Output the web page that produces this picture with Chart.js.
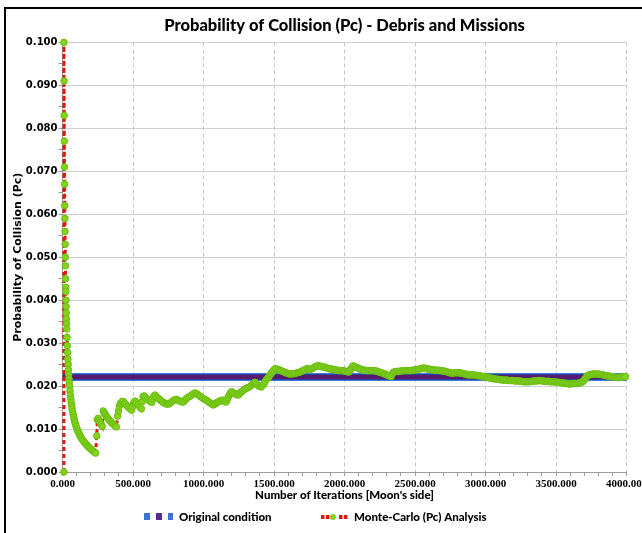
<!DOCTYPE html>
<html><head><meta charset="utf-8">
<script src="https://cdn.jsdelivr.net/npm/chart.js@4.4.1/dist/chart.umd.min.js"></script>
<style>
html,body{margin:0;padding:0;background:#fff;overflow:hidden;width:642px;height:533px;}
#frame{position:absolute;left:4px;top:7px;width:636px;height:526px;border-left:2px solid #000;border-top:2px solid #000;}
#c{position:absolute;left:0;top:0;}
</style></head><body>
<div id="frame"></div>
<canvas id="c" width="642" height="533"></canvas>
<script>
const chartTitle = 'Probability of Collision (Pc) - Debris and Missions';
const xAxisTitle = "Number of Iterations [Moon's side]";
const yAxisTitle = 'Probability of Collision (Pc)';
const seriesNames = ['Original condition', 'Monte-Carlo (Pc) Analysis'];
const xRange = [0, 4000];
const yRange = [0, 0.1];
const originalConditionX = [0, 4000];
const originalConditionPc = [0.0221, 0.0221];

// Monte-Carlo samples (iterations in thousands, Pc)
const mcIterations = [
 10,10,11,12,13,14,15,16,17,18,19,20,21,22,23,24,25,26,27,28,29,30,
 32,34,36,38,40,42,44,46,48,50,
 53,56,59,62,65,68,72,76,80,84,88,92,
 97,102,107,112,118,124,130,137,144,151,158,
 166,174,182,190,199,208,217,226,235,
 243,247,253,260,267,274,282,289,296,303,
 310,318,326,334,342,350,358,366,374,382,
 391,397,403,409,416,424,431,440,450,460,
 470,480,490,497,503,509,515,525,536,548,
 560,566,572,580,590,600,612,622,633,640,
 648,656,666,677,688,699,710,720,731,741,
 752,762,773,784,796,808,820,833,845,857,
 868,879,891,904,916,928,940,950,961,972,
 982,993,1004,1015,1025,1036,1046,1058,1070,1080,
 1089,1097,1105,1114,1124,1132,1140,1150,1160,1167,
 1174,1181,1188,1194,1200,1211,1223,1235,1247,1256,
 1266,1274,1282,1293,1305,1318,1330,1340,1351,1358,
 1365,1377,1389,1398,1408,1418,1429,1438,1448,1459,
 1466,1472,1479,1486,1493,1500,1511,1528,1539,1550,
 1561,1571,1582,1592,1603,1613,1624,1635,1645,1656,
 1667,1677,1688,1699,1710,1720,1734,1745,1755,1766,
 1777,1788,1798,1809,1819,1830,1840,1851,1862,1872,
 1883,1894,1904,1915,1926,1936,1947,1958,1968,1979,
 1989,2000,2011,2022,2032,2040,2046,2054,2062,2072,
 2082,2093,2103,2114,2124,2135,2145,2156,2167,2177,
 2188,2198,2209,2220,2230,2241,2252,2262,2273,2284,
 2294,2305,2316,2330,2338,2346,2355,2365,2376,2386,
 2397,2408,2418,2429,2440,2450,2461,2472,2482,2493,
 2503,2514,2525,2535,2546,2557,2567,2578,2589,2599,
 2610,2621,2631,2642,2652,2663,2674,2684,2695,2706,
 2716,2727,2738,2748,2759,2769,2780,2791,2801,2812,
 2823,2833,2844,2855,2865,2876,2887,2897,2908,2918,
 2929,2940,2950,2961,2972,2982,2993,3004,3014,3025,
 3035,3046,3057,3067,3078,3089,3099,3110,3121,3131,
 3142,3152,3163,3174,3184,3195,3206,3216,3227,3238,
 3248,3259,3270,3280,3291,3301,3312,3323,3333,3344,
 3355,3365,3376,3386,3397,3408,3418,3429,3440,3450,
 3461,3471,3482,3493,3503,3514,3525,3535,3546,3557,
 3567,3578,3588,3599,3610,3620,3631,3642,3652,3663,
 3674,3684,3691,3698,3706,3713,3720,3727,3738,3748,
 3759,3769,3780,3791,3801,3812,3823,3833,3844,3855,
 3865,3876,3886,3897,3908,3918,3929,3940,3950,3961,
 3972,3982,3993
];
const mcPc = [
 0.000,0.100,0.091,0.083,0.077,0.071,0.067,0.062,0.059,0.056,0.053,0.050,0.048,0.045,0.043,0.042,0.040,0.0385,0.037,0.0357,0.0345,0.0333,
 0.0313,0.0294,0.0278,0.0263,0.0250,0.0238,0.0227,0.0217,0.0208,0.0200,
 0.0189,0.0179,0.0170,0.0162,0.0155,0.0148,0.0140,0.0133,0.0127,0.0121,0.0116,0.0111,
 0.0106,0.0101,0.0097,0.0093,0.0089,0.0085,0.0081,0.0077,0.0074,0.0071,0.0068,
 0.0065,0.0062,0.0059,0.0057,0.0054,0.0051,0.0049,0.0046,0.0044,
 0.0084,0.0122,0.0125,0.0120,0.0115,0.0111,0.0106,0.0142,0.0138,0.0134,
 0.0130,0.0127,0.0123,0.0120,0.0117,0.0114,0.0112,0.0110,0.0107,0.0105,
 0.0130,0.0142,0.0153,0.0158,0.0161,0.0164,0.0164,0.0160,0.0157,0.0153,
 0.0150,0.0147,0.0144,0.0152,0.0159,0.0163,0.0165,0.0161,0.0157,0.0152,
 0.0147,0.0164,0.0176,0.0177,0.0173,0.0170,0.0167,0.0164,0.0162,0.0170,
 0.0176,0.0179,0.0175,0.0172,0.0169,0.0166,0.0163,0.0161,0.0159,0.0158,
 0.0158,0.0160,0.0163,0.0166,0.0168,0.0169,0.0167,0.0165,0.0163,0.0163,
 0.0167,0.0171,0.0174,0.0176,0.0179,0.0182,0.0184,0.0182,0.0180,0.0177,
 0.0175,0.0172,0.0170,0.0168,0.0166,0.0163,0.0161,0.0158,0.0156,0.0158,
 0.0160,0.0162,0.0163,0.0165,0.0166,0.0167,0.0167,0.0164,0.0163,0.0168,
 0.0173,0.0178,0.0182,0.0185,0.0187,0.0184,0.0182,0.0180,0.0179,0.0183,
 0.0186,0.0188,0.0190,0.0193,0.0195,0.0197,0.0199,0.0202,0.0205,0.0207,
 0.0209,0.0205,0.0201,0.0199,0.0198,0.0201,0.0205,0.0211,0.0216,0.0219,
 0.0223,0.0226,0.0229,0.0232,0.0235,0.0238,0.0241,0.0239,0.0237,0.0236,
 0.0234,0.0233,0.0231,0.0230,0.0229,0.0228,0.0228,0.0229,0.0229,0.0230,
 0.0231,0.0232,0.0233,0.0235,0.0237,0.0238,0.0241,0.0239,0.0238,0.0240,
 0.0242,0.0244,0.0246,0.0247,0.0247,0.0246,0.0245,0.0244,0.0244,0.0242,
 0.0241,0.0240,0.0240,0.0239,0.0238,0.0238,0.0237,0.0236,0.0236,0.0236,
 0.0236,0.0235,0.0234,0.0233,0.0233,0.0237,0.0240,0.0244,0.0247,0.0245,
 0.0244,0.0242,0.0241,0.0239,0.0238,0.0237,0.0237,0.0236,0.0236,0.0236,
 0.0236,0.0236,0.0236,0.0235,0.0235,0.0233,0.0232,0.0231,0.0230,0.0228,
 0.0227,0.0225,0.0224,0.0222,0.0228,0.0232,0.0233,0.0234,0.0234,0.0234,
 0.0235,0.0235,0.0236,0.0236,0.0236,0.0236,0.0236,0.0236,0.0237,0.0237,
 0.0238,0.0238,0.0239,0.0240,0.0241,0.0242,0.0242,0.0241,0.0240,0.0239,
 0.0239,0.0238,0.0238,0.0237,0.0237,0.0237,0.0236,0.0236,0.0235,0.0235,
 0.0234,0.0233,0.0232,0.0231,0.0230,0.0230,0.0231,0.0231,0.0231,0.0231,
 0.0230,0.0230,0.0229,0.0228,0.0227,0.0226,0.0226,0.0226,0.0226,0.0226,
 0.0225,0.0225,0.0224,0.0224,0.0223,0.0222,0.0222,0.0221,0.0220,0.0219,
 0.0219,0.0218,0.0217,0.0217,0.0216,0.0216,0.0215,0.0215,0.0214,0.0214,
 0.0214,0.0214,0.0213,0.0213,0.0213,0.0213,0.0212,0.0212,0.0212,0.0212,
 0.0211,0.0211,0.0210,0.0210,0.0210,0.0210,0.0210,0.0211,0.0211,0.0212,
 0.0212,0.0212,0.0213,0.0213,0.0212,0.0212,0.0211,0.0211,0.0211,0.0211,
 0.0210,0.0210,0.0210,0.0210,0.0209,0.0209,0.0208,0.0208,0.0207,0.0207,
 0.0206,0.0206,0.0205,0.0205,0.0205,0.0206,0.0206,0.0206,0.0206,0.0207,
 0.0208,0.0209,0.0211,0.0213,0.0217,0.0220,0.0223,0.0225,0.0226,0.0227,
 0.0228,0.0228,0.0228,0.0228,0.0228,0.0227,0.0227,0.0226,0.0225,0.0224,
 0.0224,0.0223,0.0222,0.0222,0.0221,0.0221,0.0220,0.0220,0.0220,0.0221,
 0.0221,0.0222,0.0222
];

const NARROW = "Lato, 'Liberation Sans', sans-serif";
const toPts = (xs, ys) => xs.map((x, i) => ({x: x, y: ys[i]}));
const bandData = toPts(originalConditionX, originalConditionPc);

const legendPlugin = {
  id: 'customLegend',
  afterDraw(chart) {
    const ctx = chart.ctx;
    const y = 517;
    ctx.save();
    // Original condition swatch
    ctx.fillStyle = '#3d74d2'; ctx.fillRect(144, y - 4, 6, 7);
    ctx.fillStyle = '#5a2a8c'; ctx.fillRect(156, y - 4, 6, 7);
    ctx.fillStyle = '#3d74d2'; ctx.fillRect(168, y - 4, 5, 7);
    // Monte-Carlo swatch
    ctx.fillStyle = '#e5160f';
    [321, 326, 339, 344].forEach(x => ctx.fillRect(x, y - 2, 3.5, 4));
    ctx.beginPath(); ctx.arc(333, y, 3, 0, Math.PI * 2);
    ctx.fillStyle = '#84d21c'; ctx.fill();
    ctx.font = "900 11.5px " + NARROW;
    ctx.fillStyle = '#000';
    ctx.textBaseline = 'middle';
    ctx.textAlign = 'left';
    ctx.fillText(seriesNames[0], 179, y);
    ctx.fillText(seriesNames[1], 354, y);
    ctx.restore();
  }
};

new Chart(document.getElementById('c'), {
  type: 'scatter',
  data: {
    datasets: [
      {
        label: seriesNames[1],
        data: toPts(mcIterations, mcPc),
        showLine: true,
        borderColor: '#e5160f',
        borderWidth: 3,
        borderDash: [4, 3],
        pointRadius: 3.3,
        pointBackgroundColor: '#84d21c',
        pointBorderColor: '#6cbf12',
        pointBorderWidth: 1,
        tension: 0,
        clip: 6,
        order: 0
      },
      { label: seriesNames[0], data: bandData, showLine: true, borderColor: '#561a70', borderWidth: 4, pointRadius: 0, order: 1 },
      { label: seriesNames[0] + ' (inner)', data: bandData, showLine: true, borderColor: '#2a2f8f', borderWidth: 5.5, pointRadius: 0, order: 2 },
      { label: seriesNames[0] + ' (outer)', data: bandData, showLine: true, borderColor: '#3b7ad8', borderWidth: 8, pointRadius: 0, order: 3 }
    ]
  },
  options: {
    responsive: false,
    animation: false,
    events: [],
    layout: { padding: { top: 15.4, left: 0, right: 15.5, bottom: 30 } },
    plugins: {
      legend: { display: false },
      tooltip: { enabled: false },
      title: {
        display: true, text: chartTitle, color: '#000', fullSize: false,
        font: { family: NARROW, size: 16.5, weight: '900' },
        padding: { top: 0, bottom: 7.2 }
      }
    },
    scales: {
      x: {
        type: 'linear', min: xRange[0], max: xRange[1],
        afterFit: (s) => { s.height = 31; s.paddingLeft = 0; s.paddingRight = 0; },
        ticks: {
          stepSize: 100, autoSkip: false, maxRotation: 0, minRotation: 0, padding: 2,
          color: '#000', font: { family: "'Liberation Serif', serif", size: 11, weight: 'bold' },
          callback: (v) => Math.round(v) % 500 === 0 ? Number(v).toFixed(3) : ''
        },
        grid: {
          color: (c) => (c.tick && Math.round(c.tick.value) % 500 === 0) ? '#c6c6c6' : 'rgba(0,0,0,0)',
          tickColor: '#9a9a9a', tickLength: 4, lineWidth: 1, tickBorderDash: [], borderDash: [4, 3]
        },
        border: { color: '#9a9a9a', dash: [4, 3] },
        title: {
          display: true, text: xAxisTitle, color: '#000',
          font: { family: NARROW, size: 11.5, weight: '900' },
          padding: { top: 0, bottom: 1 }
        }
      },
      y: {
        type: 'linear', min: yRange[0], max: yRange[1],
        afterFit: (s) => { s.width = 62.5; },
        ticks: {
          stepSize: 0.005, autoSkip: false, padding: 1, color: '#000',
          font: { family: "'DejaVu Sans', sans-serif", size: 10, weight: 'bold' },
          callback: (v) => Math.round(v * 1000) % 10 === 0 ? Number(v).toFixed(3) : ''
        },
        grid: {
          color: (c) => (c.tick && Math.round(c.tick.value * 1000) % 10 === 0) ? '#d0d0d0' : 'rgba(0,0,0,0)',
          tickColor: '#9a9a9a', tickLength: 4, lineWidth: 1
        },
        border: { color: '#9a9a9a' },
        title: {
          display: true, text: yAxisTitle, color: '#000',
          font: { family: "'DejaVu Sans', sans-serif", size: 11, weight: 'bold' },
          padding: { top: 12, bottom: 0 }
        }
      }
    }
  },
  plugins: [legendPlugin]
});
</script>
</body></html>
